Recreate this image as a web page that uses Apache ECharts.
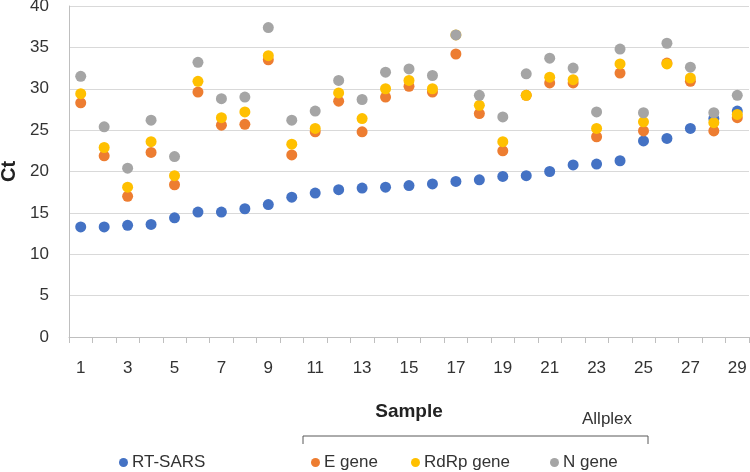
<!DOCTYPE html>
<html><head><meta charset="utf-8">
<script src="https://cdn.jsdelivr.net/npm/echarts@6/dist/echarts.min.js"></script>
<style>html,body{margin:0;padding:0;background:#fff}#c{width:750px;height:472px}</style>
</head><body><div id="c"></div>
<script>
const samples = Array.from({length:29},(_,i)=>String(i+1));
const rtSars = [13.3,13.3,13.5,13.6,14.4,15.1,15.1,15.5,16.0,16.9,17.4,17.8,18.0,18.1,18.3,18.5,18.8,19.0,19.4,19.5,20.0,20.8,20.9,21.3,23.7,24.0,25.2,26.4,27.3];
const eGene = [28.3,21.9,17.0,22.3,18.4,29.6,25.6,25.7,33.5,22.0,24.8,28.5,24.8,29.0,30.3,29.6,34.2,27.0,22.5,29.2,30.7,30.7,24.2,31.9,24.9,33.1,30.9,24.9,26.5];
const rdrpGene = [29.4,22.9,18.1,23.6,19.5,30.9,26.5,27.2,34.0,23.3,25.2,29.5,26.4,30.0,31.0,30.0,36.5,28.0,23.6,29.2,31.4,31.1,25.2,33.0,26.0,33.0,31.3,25.9,26.9];
const nGene = [31.5,25.4,20.4,26.2,21.8,33.2,28.8,29.0,37.4,26.2,27.3,31.0,28.7,32.0,32.4,31.6,36.5,29.2,26.6,31.8,33.7,32.5,27.2,34.8,27.1,35.5,32.6,27.1,29.2];
const yTicks = [0,5,10,15,20,25,30,35,40];

const FONT = '"Liberation Sans", Arial, sans-serif';
const chart = echarts.init(document.getElementById('c'), null, {renderer:'canvas'});
const mk = (name, data, color) => ({name, type:'scatter', data, symbol:'circle', symbolSize:11,
  itemStyle:{color, opacity:1}, emphasis:{disabled:true}});
const leg = (name, left) => ({show:true, data:[name], left, top:454, padding:0, icon:'circle', itemWidth:9, itemHeight:9,
  itemGap:0, itemStyle:{opacity:1}, textStyle:{fontFamily:FONT, fontSize:17, color:'#333', padding:[0,0,0,-1]}, selectedMode:false});
chart.setOption({
  animation:false,
  textStyle:{fontFamily:FONT},
  grid:{left:69, right:1, top:6, bottom:135, containLabel:false, outerBoundsMode:'none'},
  xAxis:{type:'category', data:samples, boundaryGap:true,
    name:'Sample', nameLocation:'middle', nameGap:65,
    nameTextStyle:{fontFamily:FONT, fontSize:19, fontWeight:'bold', color:'#222'},
    axisLine:{lineStyle:{color:'#bfbfbf'}},
    axisTick:{show:true, interval:0, alignWithLabel:false, length:6, lineStyle:{color:'#bfbfbf'}},
    axisLabel:{interval:1, fontSize:17, color:'#333', margin:23}},
  yAxis:{type:'value', min:yTicks[0], max:yTicks[yTicks.length-1], interval:5,
    name:'Ct', nameLocation:'middle', nameGap:44, nameRotate:90,
    nameTextStyle:{fontFamily:FONT, fontSize:20, fontWeight:'bold', color:'#222'},
    axisLine:{show:true, lineStyle:{color:'#bfbfbf'}},
    axisTick:{show:false},
    splitLine:{lineStyle:{color:'#d9d9d9', width:1}},
    axisLabel:{fontSize:17, color:'#333', margin:20}},
  legend:[leg('RT-SARS',119), leg('E gene',311), leg('RdRp gene',411), leg('N gene',550)],
  graphic:[
    {type:'polyline', shape:{points:[[303,444],[303,436],[648,436],[648,444]]}, style:{stroke:'#595959', lineWidth:1, fill:null}},
    {type:'text', left:582, top:411, style:{text:'Allplex', font:'17px '+FONT, fill:'#333'}}
  ],
  series:[mk('RT-SARS', rtSars, '#4472C4'), mk('E gene', eGene, '#ED7D31'), mk('RdRp gene', rdrpGene, '#FFC000'), mk('N gene', nGene, '#A5A5A5')]
});
</script></body></html>
